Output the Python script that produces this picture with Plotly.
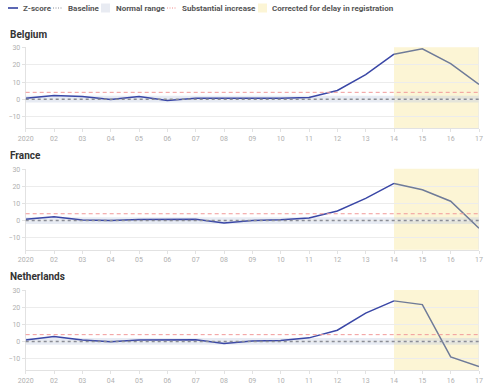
import plotly.graph_objects as go

weeks = list(range(1, 18))
week_labels = ["2020", "02", "03", "04", "05", "06", "07", "08", "09", "10",
               "11", "12", "13", "14", "15", "16", "17"]
countries = ["Belgium", "France", "Netherlands"]
belgium = [0.5, 2.1, 1.5, -0.2, 1.5, -0.8, 0.6, 0.6, 0.5, 0.5, 1.0, 5.1, 14.4, 26.3, 29.4, 20.8, 8.6]
france = [0.8, 2.3, 0.4, 0.0, 0.6, 0.8, 0.8, -1.4, 0.0, 0.5, 1.5, 5.6, 13.0, 21.7, 18.0, 11.3, -4.5]
netherlands = [0.8, 2.9, 0.8, -0.2, 0.8, 0.8, 1.0, -1.2, 0.2, 0.6, 2.1, 6.6, 16.7, 23.9, 21.7, -9.1, -14.8]
series = [belgium, france, netherlands]
baseline = 0
normal_low, normal_high = -2, 2
substantial = 4
corrected_from = 14
y_ticks = [-10, 0, 10, 20, 30]

W, H = 500, 390
x_left, x_right = 25.7, 479
panel_px = [(47.3, 128.3), (168.7, 249.7), (290.0, 370.3)]
title_px = [34, 155.7, 276.7]

BLUE = "#3a47a6"
GRAYLINE = "#6f7b98"
YELLOW = "#fcf5d5"
TICKFONT = dict(family="Roboto", size=7, color="#b0b0b0")

fig = go.Figure()
layout = dict(width=W, height=H, margin=dict(l=0, r=0, t=0, b=0),
              plot_bgcolor="white", paper_bgcolor="white", showlegend=False)
shapes = []
annotations = []

for i, (name, vals) in enumerate(zip(countries, series)):
    n = "" if i == 0 else str(i + 1)
    xa, ya = "x" + n, "y" + n
    top, bot = panel_px[i]
    layout["xaxis" + n] = dict(
        domain=[x_left / W, x_right / W], range=[1, 17], anchor=ya,
        tickvals=weeks, ticktext=week_labels, tickfont=TICKFONT,
        showgrid=False, zeroline=False, showline=True, linecolor="#e2e2e2",
        linewidth=1, ticks="outside", ticklen=3, tickcolor="#e2e2e2",
        automargin=False, fixedrange=True)
    layout["yaxis" + n] = dict(
        domain=[1 - bot / H, 1 - top / H], range=[-17, 30.3], anchor=xa,
        tickvals=y_ticks, tickfont=TICKFONT, showgrid=True, gridcolor="#ececec",
        gridwidth=1, zeroline=False, showline=True, linecolor="#e2e2e2",
        ticks="outside", ticklen=3, tickcolor="#e2e2e2", automargin=False,
        fixedrange=True)
    # corrected period
    shapes.append(dict(type="rect", xref=xa, yref=ya + " domain", x0=corrected_from, x1=17,
                       y0=0, y1=1, fillcolor=YELLOW, line=dict(width=0), layer="below"))
    # normal range band
    shapes.append(dict(type="rect", xref=xa + " domain", yref=ya, x0=0, x1=1,
                       y0=normal_low, y1=normal_high, fillcolor="rgba(196,204,224,0.4)",
                       line=dict(width=0), layer="below"))
    # right edge
    shapes.append(dict(type="line", xref=xa, yref=ya + " domain", x0=17, x1=17, y0=0, y1=1,
                       line=dict(color="#e6e6e6", width=1), layer="below"))
    # substantial increase
    shapes.append(dict(type="line", xref=xa + " domain", yref=ya, x0=0, x1=1,
                       y0=substantial, y1=substantial,
                       line=dict(color="#f19a9a", width=1, dash="4px,3px")))
    # baseline
    shapes.append(dict(type="line", xref=xa + " domain", yref=ya, x0=0, x1=1,
                       y0=baseline, y1=baseline,
                       line=dict(color="#8a8d96", width=1.5, dash="3px,3px")))
    k = weeks.index(corrected_from)
    fig.add_trace(go.Scatter(x=weeks[:k + 1], y=vals[:k + 1], mode="lines", xaxis=xa, yaxis=ya,
                             line=dict(color=BLUE, width=1.5), name="Z-score"))
    fig.add_trace(go.Scatter(x=weeks[k:], y=vals[k:], mode="lines", xaxis=xa, yaxis=ya,
                             line=dict(color=GRAYLINE, width=1.5), name="Z-score (corrected)"))
    annotations.append(dict(text="<b>" + name + "</b>", xref="paper", yref="paper",
                            x=8 / W, y=1 - title_px[i] / H, xanchor="left", yanchor="middle",
                            showarrow=False, font=dict(family="Roboto", size=10, color="#333333")))

# manual legend
ly = 1 - 8 / H
LFONT = dict(family="Roboto", size=8, color="#555555")

def px(x):
    return x / W

shapes.append(dict(type="line", xref="paper", yref="paper", x0=px(8), x1=px(18), y0=ly, y1=ly,
                   line=dict(color="#5b67b3", width=2)))
shapes.append(dict(type="line", xref="paper", yref="paper", x0=px(53), x1=px(62), y0=ly, y1=ly,
                   line=dict(color="#8a8d96", width=1, dash="1px,1.5px")))
shapes.append(dict(type="rect", xref="paper", yref="paper", x0=px(101), x1=px(110),
                   y0=1 - 12.5 / H, y1=1 - 3.5 / H, fillcolor="#e8ebf2", line=dict(width=0)))
shapes.append(dict(type="line", xref="paper", yref="paper", x0=px(167), x1=px(177), y0=ly, y1=ly,
                   line=dict(color="#f08a8a", width=1, dash="1px,1.5px")))
shapes.append(dict(type="rect", xref="paper", yref="paper", x0=px(258), x1=px(267),
                   y0=1 - 12.5 / H, y1=1 - 3.5 / H, fillcolor=YELLOW, line=dict(width=0)))
for tx, label in [(20.5, "Z-score"), (65.5, "Baseline"), (113.5, "Normal range"),
                  (179.5, "Substantial increase"), (270, "Corrected for delay in registration")]:
    annotations.append(dict(text="<b>" + label + "</b>", xref="paper", yref="paper", x=px(tx), y=ly,
                            xanchor="left", yanchor="middle", showarrow=False, font=LFONT))

layout["shapes"] = shapes
layout["annotations"] = annotations
fig.update_layout(**layout)
fig.write_html("out.html", config={"displayModeBar": False},
               post_script="document.body.style.margin='0';document.body.style.overflow='hidden';")
